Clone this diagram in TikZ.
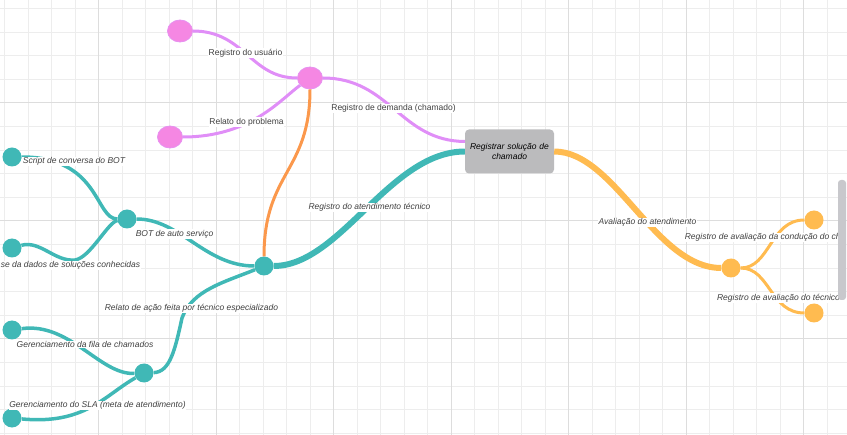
\documentclass[tikz,border=0pt]{standalone}
\usepackage{fontspec}
\setmainfont{Liberation Sans}
\usetikzlibrary{shapes.geometric}

\definecolor{cPinkNode}{HTML}{F587E3}
\definecolor{cPinkEdge}{HTML}{E690F0}
\definecolor{cPinkWire}{HTML}{E08EF7}
\definecolor{cTeal}{HTML}{40B8B6}
\definecolor{cOrange}{HTML}{FB984C}
\definecolor{cYellow}{HTML}{FFBB50}
\definecolor{cBox}{HTML}{BBBBBD}
\definecolor{cGridMinor}{HTML}{EDEDED}
\definecolor{cGridMajor}{HTML}{DDDDDD}
\definecolor{cLabel}{HTML}{404040}
\definecolor{cScroll}{HTML}{C8C8CC}

\tikzset{
  pinkdot/.style={ellipse, draw=cPinkEdge, line width=0.8bp, fill=cPinkNode, minimum width=25bp, minimum height=22bp, inner sep=0},
  tealdot/.style={circle, fill=cTeal, minimum size=19bp, inner sep=0},
  yellowdot/.style={circle, fill=cYellow, minimum size=19bp, inner sep=0},
  rootbox/.style={rectangle, rounded corners=4bp, fill=cBox, inner sep=1.5bp, minimum width=89bp, minimum height=44bp, text width=86bp, align=center, font=\fontsize{8.5bp}{10.3bp}\selectfont\itshape},
  lbl/.style={fill=white, inner sep=0.6bp, text=cLabel, font=\fontsize{8.5bp}{10bp}\selectfont},
  ilbl/.style={lbl, font=\fontsize{8.5bp}{10bp}\selectfont\itshape},
  pinkwire/.style={cPinkWire, line width=3bp},
  orangewire/.style={cOrange, line width=3bp},
  tealwire/.style={cTeal, line width=3.5bp},
  tealtrunk/.style={cTeal, line width=6bp},
  yellowwire/.style={cYellow, line width=3bp},
  yellowtrunk/.style={cYellow, line width=6bp},
}

\begin{document}
\begin{tikzpicture}[x=1bp, y=-1bp]
\useasboundingbox (0,0) rectangle (847,435);

\foreach \i in {0,...,35} \draw[cGridMinor, line width=1bp] (4.5+23.5*\i,0) -- (4.5+23.5*\i,435);
\foreach \j in {0,...,18} \draw[cGridMinor, line width=1bp] (0,8.5+23.6*\j) -- (847,8.5+23.6*\j);
\foreach \x in {98.5,216,333.5,451,568.5,686,803.5} \draw[cGridMajor, line width=1bp] (\x,0) -- (\x,435);
\foreach \y in {102.9,220.9,338.9} \draw[cGridMajor, line width=1bp] (0,\y) -- (847,\y);

\node [pinkdot] (p1) at (180,31) {};
\node [pinkdot] (p2) at (170,137) {};
\node [pinkdot] (p3) at (310,78) {};
\node [rootbox] (root) at (509.5,151.5) {Registrar solução de\\chamado};
\node [tealdot] (t1) at (264,266) {};
\node [tealdot] (t2) at (127,219) {};
\node [tealdot] (t3) at (12,157) {};
\node [tealdot] (t4) at (12,248) {};
\node [tealdot] (t5) at (144,373) {};
\node [tealdot] (t6) at (12,330) {};
\node [tealdot] (t7) at (12,418) {};
\node [yellowdot] (y1) at (731,268) {};
\node [yellowdot] (y2) at (814,220) {};
\node [yellowdot] (y3) at (814,313) {};

\draw[pinkwire] (p1) .. controls (245,31) and (250,78) .. (p3);
\draw[pinkwire] (p2) .. controls (250,137) and (280,100) .. (p3);
\draw[pinkwire] (p3) .. controls (390,78) and (400,141) .. ([yshift=10bp]root.west);
\draw[orangewire] (p3) .. controls (310,172) and (264,172) .. (t1);
\draw[tealtrunk] (t1) .. controls (340,266) and (390,151.5) .. (root.west);
\draw[tealwire] (t2) .. controls (180,219) and (205,266) .. (t1);
\draw[tealwire] (t3) .. controls (100,157) and (95,219) .. (t2);
\draw[tealwire] (t4) .. controls (40,240) and (55,262) .. (75,260) .. controls (90,258) and (108,222) .. (t2);
\draw[tealwire] (t5) .. controls (170,372) and (175,350) .. (182,318) .. controls (192,290) and (225,282) .. (t1);
\draw[tealwire] (t6) .. controls (70,322) and (100,375) .. (t5);
\draw[tealwire] (t7) .. controls (85,425) and (105,395) .. (t5);
\draw[yellowtrunk] (root.east) .. controls (615,151.5) and (655,268) .. (y1);
\draw[yellowwire] (y1) .. controls (770,268) and (770,220) .. (y2);
\draw[yellowwire] (y1) .. controls (770,268) and (770,313) .. (y3);

\node [lbl] (l1) at (245.5,53) {Registro do usuário};
\node [lbl] (l2) at (246.5,122) {Relato do problema};
\node [lbl] (l3) at (393.5,108.5) {Registro de demanda (chamado)};
\node [ilbl] (l4) at (369.5,207.5) {Registro do atendimento técnico};
\node [ilbl] (l5) at (74,161.5) {Script de conversa do BOT};
\node [ilbl, anchor=west] (l6) at (0,265.5) {se da dados de soluções conhecidas};
\node [ilbl] (l7) at (174.5,234) {BOT de auto serviço};
\node [ilbl] (l8) at (191.5,308.5) {Relato de ação feita por técnico especializado};
\node [ilbl] (l9) at (85,344.5) {Gerenciamento da fila de chamados};
\node [ilbl] (l10) at (97.5,405.5) {Gerenciamento do SLA (meta de atendimento)};
\node [ilbl] (l11) at (647.5,222.5) {Avaliação do atendimento};
\node [ilbl, anchor=west] (l12) at (684,237.5) {Registro de avaliação da condução do cha};
\node [ilbl] (l13) at (778.5,298) {Registro de avaliação do técnico};

\fill[cScroll, rounded corners=3bp] (838,180) rectangle (846,300);
\end{tikzpicture}
\end{document}
